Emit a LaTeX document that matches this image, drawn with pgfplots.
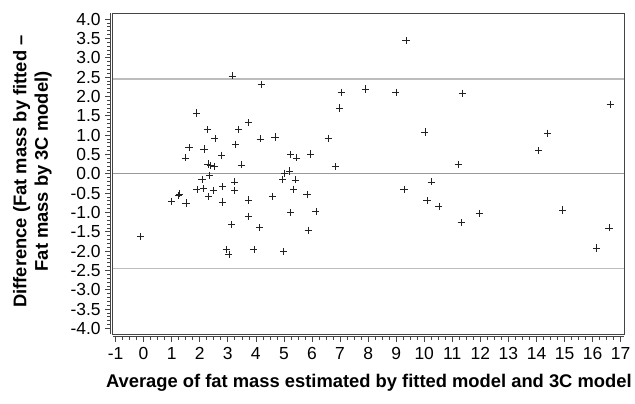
\documentclass[border=0pt]{standalone}
\usepackage{fontspec}
\setmainfont{Liberation Sans}
\usepackage{pgfplots}
\pgfplotsset{compat=1.18}
\definecolor{boxgray}{HTML}{444444}
\definecolor{zerogray}{HTML}{9A9A9A}
\definecolor{loagray}{HTML}{BDBDBD}
\definecolor{markgray}{HTML}{222222}

\begin{document}
\begin{tikzpicture}
\begin{axis}[
  scale only axis,
  width=512.7pt,
  height=321.7pt,
  xmin=-1.1, xmax=17.12,
  ymin=-4.15, ymax=4.15,
  axis x line*=bottom,
  axis y line*=left,
  axis line shift=2.5pt,
  axis line style={draw=boxgray, line width=0.8pt, -},
  xtick={-1,0,...,17},
  ytick={-4,-3.5,...,4},
  minor x tick num=3,
  minor y tick num=4,
  tick align=outside,
  major tick length=5pt,
  minor tick length=3pt,
  tick style={draw=boxgray, line width=0.6pt},
  ticklabel style={font=\fontsize{17.5}{20}\selectfont},
  xticklabel style={yshift=-2pt},
  yticklabel style={xshift=-1pt},
  /pgf/number format/assume math mode=true,
  yticklabel style={/pgf/number format/fixed, /pgf/number format/fixed zerofill, /pgf/number format/precision=1},
  xlabel={Average of fat mass estimated by fitted model and 3C model},
  ylabel={Difference (Fat mass by fitted –\\Fat mass by 3C model)},
  xlabel style={font=\fontsize{18.4}{21}\selectfont\bfseries, at={(axis description cs:0.501,-0.152)}, anchor=center},
  ylabel style={font=\fontsize{18.4}{21.5}\selectfont\bfseries, align=center, at={(axis description cs:-0.157,0.507)}, anchor=center, rotate=0},
  clip=false,
]
% limits of agreement and zero line
\addplot[draw=loagray, line width=1.4pt] coordinates {(-1.1,2.45) (17.12,2.45)};
\addplot[draw=loagray, line width=1.4pt] coordinates {(-1.1,-2.45) (17.12,-2.45)};
\addplot[draw=zerogray, line width=0.8pt] coordinates {(-1.1,0) (17.12,0)};
\addplot[only marks, mark=+, mark size=3.6pt, mark options={draw=markgray, line width=0.6pt}] coordinates {
  (3.16,2.53) (4.19,2.31) (1.88,1.57) (2.27,1.14) (3.74,1.32) (3.39,1.15)
  (2.54,0.91) (1.62,0.68) (2.15,0.64) (3.28,0.76) (4.16,0.90) (4.68,0.95)
  (1.49,0.41) (2.78,0.48) (2.29,0.25) (2.39,0.21) (2.51,0.19) (3.49,0.23)
  (2.35,-0.05) (2.08,-0.15) (3.25,-0.21) (3.25,-0.43) (2.81,-0.33) (2.49,-0.43)
  (2.14,-0.39) (1.90,-0.41) (2.32,-0.59) (1.29,-0.52) (1.25,-0.56) (1.00,-0.71)
  (1.51,-0.76) (2.80,-0.73) (3.74,-0.68) (4.59,-0.59) (3.74,-1.10) (3.14,-1.32)
  (4.13,-1.39) (-0.11,-1.63) (2.94,-1.96) (3.04,-2.08) (3.93,-1.96)
  (9.35,3.44) (7.04,2.10) (7.91,2.19) (8.99,2.10) (11.35,2.08) (6.98,1.70)
  (6.58,0.92) (10.02,1.08) (5.23,0.50) (5.45,0.41) (5.95,0.51) (6.84,0.19)
  (11.21,0.24) (5.19,0.07) (5.03,0.01) (4.95,-0.15) (5.40,-0.16) (10.25,-0.21)
  (5.35,-0.40) (9.28,-0.40) (5.82,-0.54) (10.10,-0.70) (10.52,-0.84) (5.23,-1.00)
  (6.14,-0.98) (11.32,-1.27) (5.87,-1.46) (4.99,-2.01)
  (16.63,1.80) (14.40,1.05) (14.08,0.60) (11.96,-1.03) (14.93,-0.94)
  (16.58,-1.40) (16.14,-1.92)
};
% plot frame
\draw[draw=boxgray, line width=0.9pt] (rel axis cs:0,0) rectangle (rel axis cs:1,1);
\end{axis}
\path (-113pt,-70pt) rectangle (522pt,335pt);
\end{tikzpicture}
\end{document}
